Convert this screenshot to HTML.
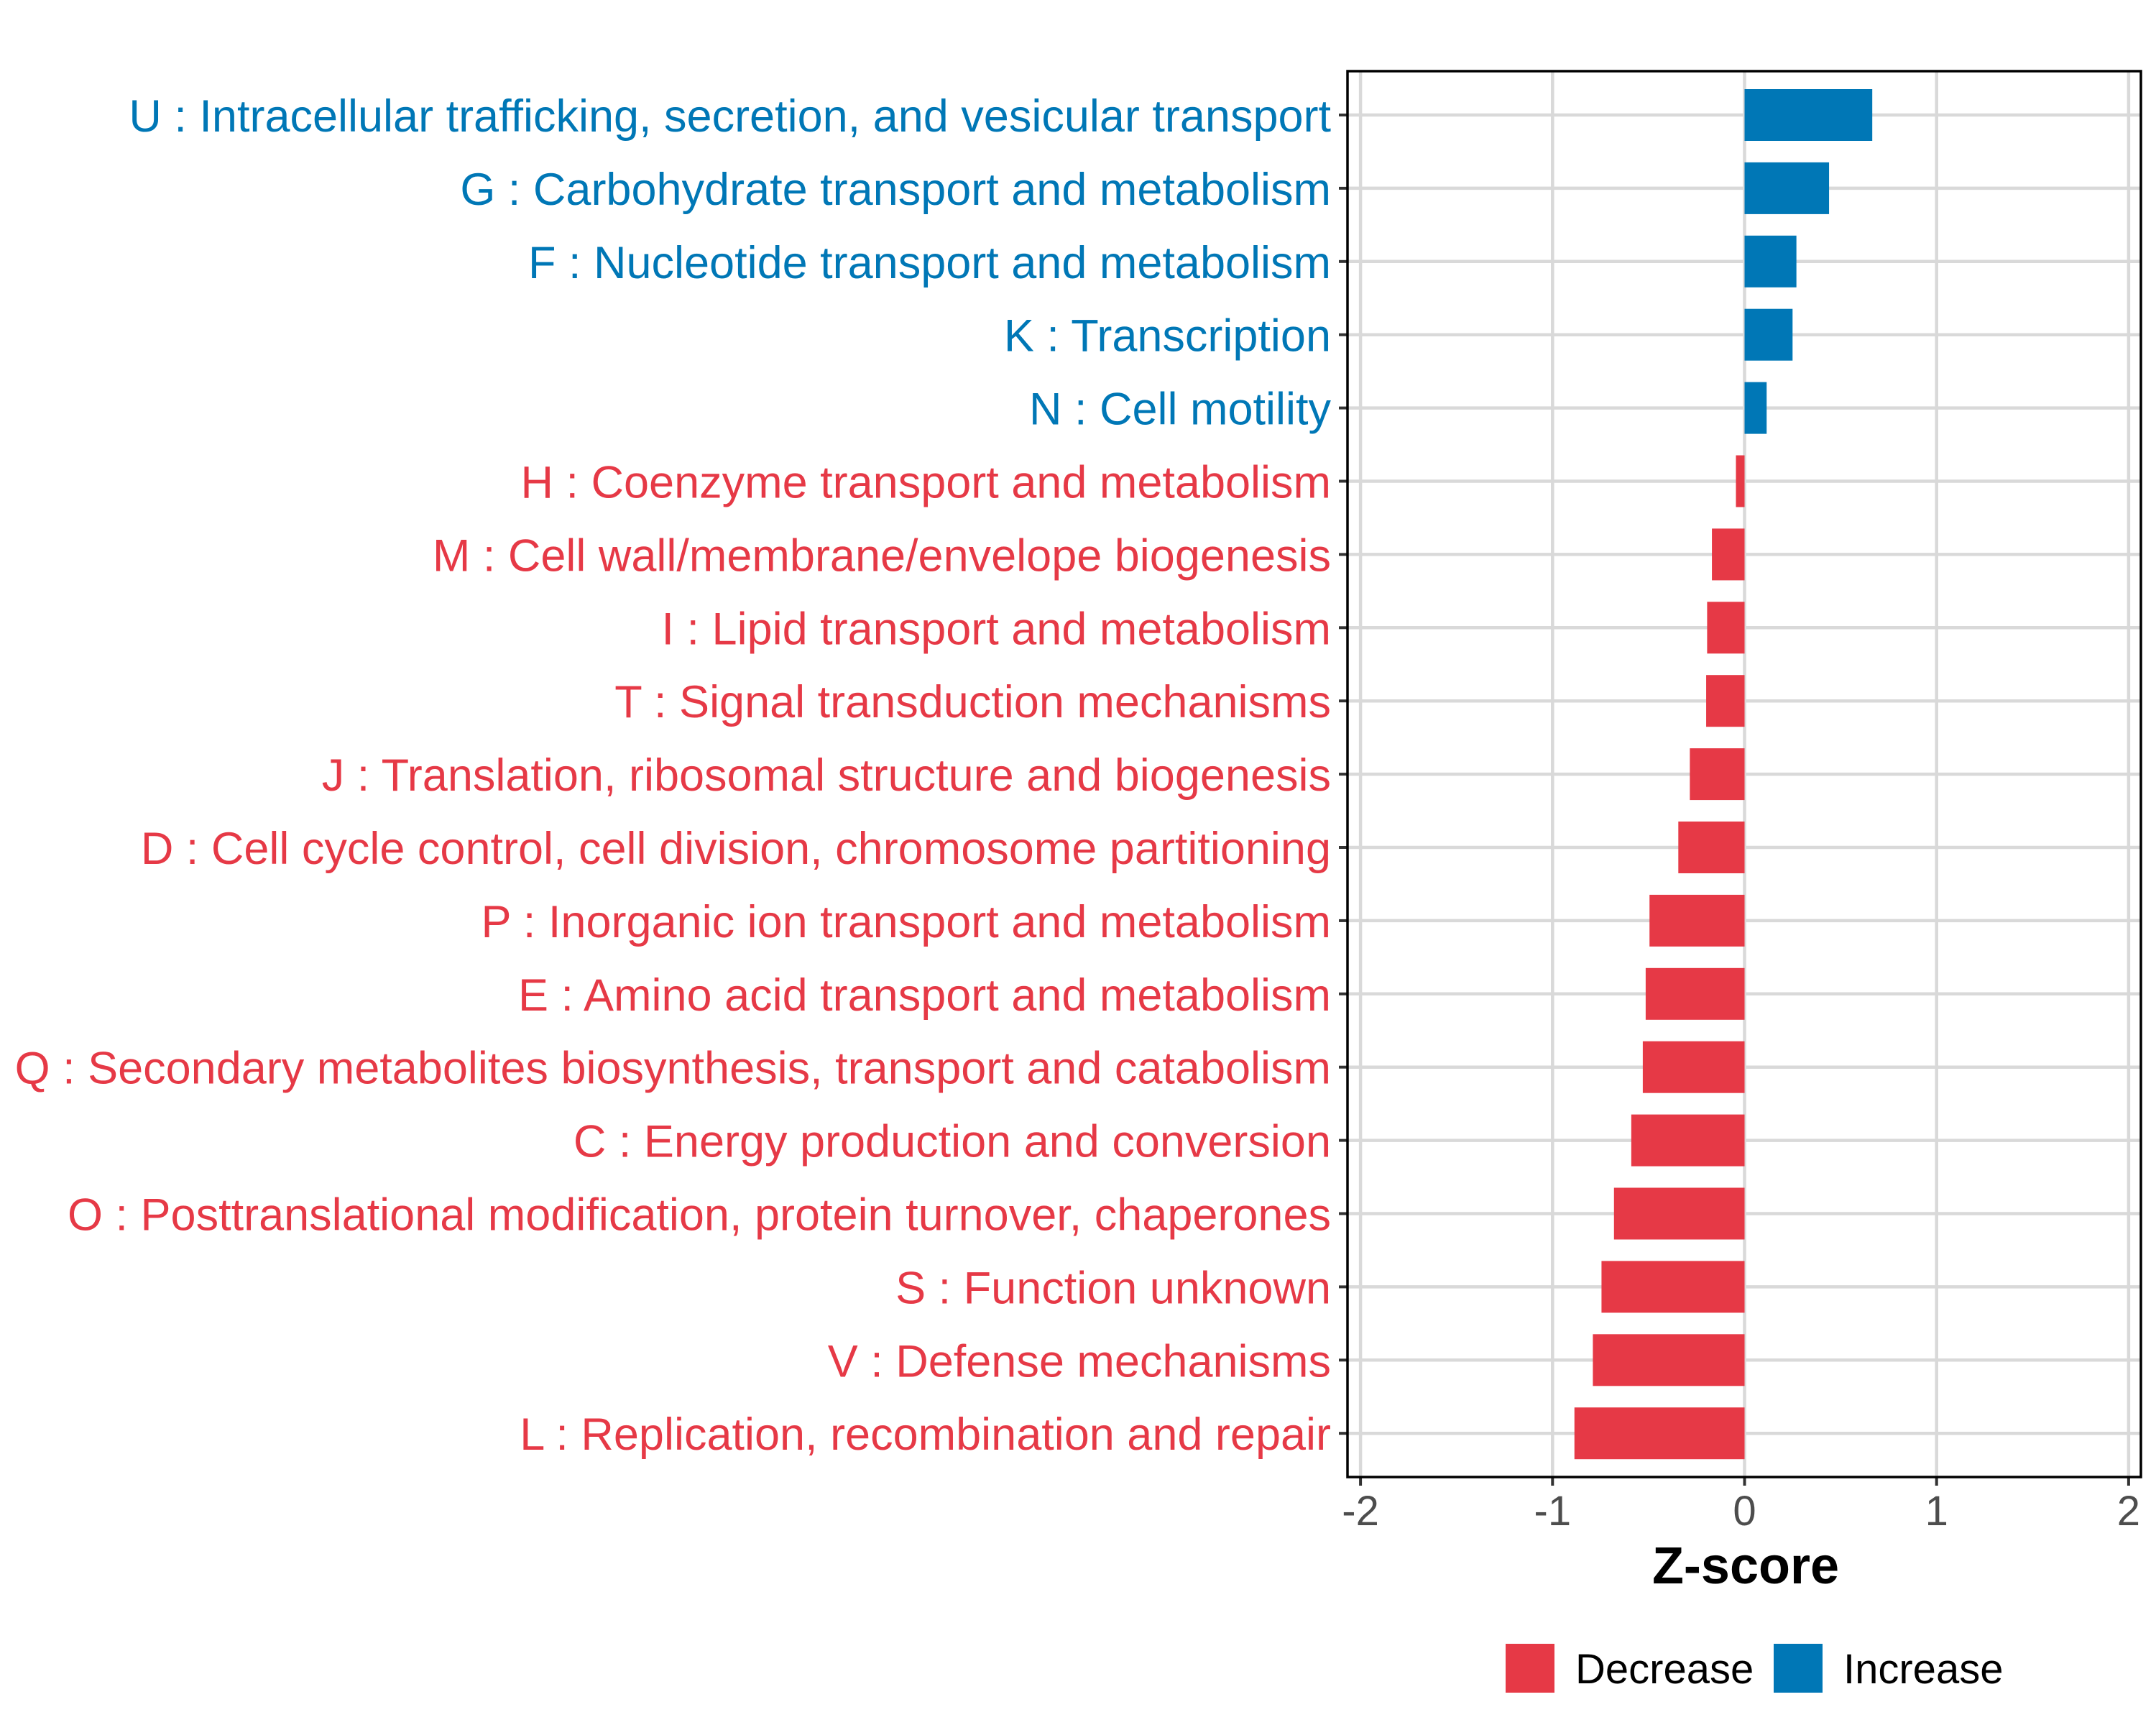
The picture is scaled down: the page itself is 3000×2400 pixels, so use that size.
<!DOCTYPE html>
<html><head><meta charset="utf-8"><style>
html,body{margin:0;padding:0;background:#fff;}
svg{display:block;font-family:"Liberation Sans",Arial,sans-serif;}
</style></head><body>
<svg id="chart" width="3000" height="2400" viewBox="0 0 3000 2400" xmlns="http://www.w3.org/2000/svg">
<rect x="0" y="0" width="3000" height="2400" fill="#fff"/>
<g id="grid"></g>
<g id="bars"></g>
<g id="ylabels"></g>
<g id="xticks"></g>
<rect x="1875" y="99" width="1104" height="1956" fill="none" stroke="#000" stroke-width="3.5"/>
<text x="2429" y="2203" text-anchor="middle" font-size="72" font-weight="bold" fill="#000">Z-score</text>
<g>
<rect x="2095" y="2287" width="68" height="68" fill="#E63946"/>
<text x="2192" y="2342" font-size="58" fill="#000">Decrease</text>
<rect x="2468" y="2287" width="68" height="68" fill="#0077B6"/>
<text x="2565" y="2342" font-size="58" fill="#000">Increase</text>
</g>
</svg>
<script>
const categories = [
"U : Intracellular trafficking, secretion, and vesicular transport",
"G : Carbohydrate transport and metabolism",
"F : Nucleotide transport and metabolism",
"K : Transcription",
"N : Cell motility",
"H : Coenzyme transport and metabolism",
"M : Cell wall/membrane/envelope biogenesis",
"I : Lipid transport and metabolism",
"T : Signal transduction mechanisms",
"J : Translation, ribosomal structure and biogenesis",
"D : Cell cycle control, cell division, chromosome partitioning",
"P : Inorganic ion transport and metabolism",
"E : Amino acid transport and metabolism",
"Q : Secondary metabolites biosynthesis, transport and catabolism",
"C : Energy production and conversion",
"O : Posttranslational modification, protein turnover, chaperones",
"S : Function unknown",
"V : Defense mechanisms",
"L : Replication, recombination and repair"
];
const zscores = [0.665,0.44,0.27,0.25,0.115,-0.045,-0.17,-0.195,-0.2,-0.285,-0.345,-0.495,-0.515,-0.53,-0.59,-0.68,-0.745,-0.79,-0.886];
const xTicks = [-2,-1,0,1,2];
const xTickLabels = ["-2","-1","0","1","2"];

const NS="http://www.w3.org/2000/svg";
const X0=2427.5, XU=267.2;
function xs(v){return X0+v*XU;}
const Y0=160, YS=101.9;
function ys(i){return Y0+i*YS;}
const RED="#E63946", BLUE="#0077B6";
function mk(tag,attrs,parent){const e=document.createElementNS(NS,tag);for(const k in attrs)e.setAttribute(k,attrs[k]);parent.appendChild(e);return e;}
const grid=document.getElementById('grid'),bars=document.getElementById('bars'),yl=document.getElementById('ylabels'),xt=document.getElementById('xticks');

xTicks.forEach((t,i)=>{
  const g=mk('line',{x1:xs(t),x2:xs(t),y1:99,y2:2055,stroke:'#d9d9d9','stroke-width':4.5},grid);
  
  
  const tk=mk('line',{x1:xs(t),x2:xs(t),y1:2055,y2:2067,stroke:'#333','stroke-width':4},xt);
  
  
  const lb=mk('text',{x:xs(t),y:2122,'text-anchor':'middle','font-size':58,fill:'#4d4d4d'},xt);
  lb.textContent=xTickLabels[i];
  
  
});
categories.forEach((c,i)=>{
  const y=ys(i);
  const gl=mk('line',{x1:1875,x2:2979,y1:y,y2:y,stroke:'#d9d9d9','stroke-width':4.5},grid);
  
  
  const v=zscores[i];
  const col=v>=0?BLUE:RED;
  const x1=Math.min(xs(0),xs(v)),w=Math.abs(xs(v)-xs(0));
  const b=mk('rect',{x:x1,y:y-36,width:w,height:72,fill:col},bars);
  
  
  const tk=mk('line',{x1:1863,x2:1875,y1:y,y2:y,stroke:'#333','stroke-width':4},yl);
  
  
  const t=mk('text',{x:1852,y:y+23,'text-anchor':'end','font-size':63,fill:col},yl);
  t.textContent=c;
  
  
});
</script>
</body></html>
